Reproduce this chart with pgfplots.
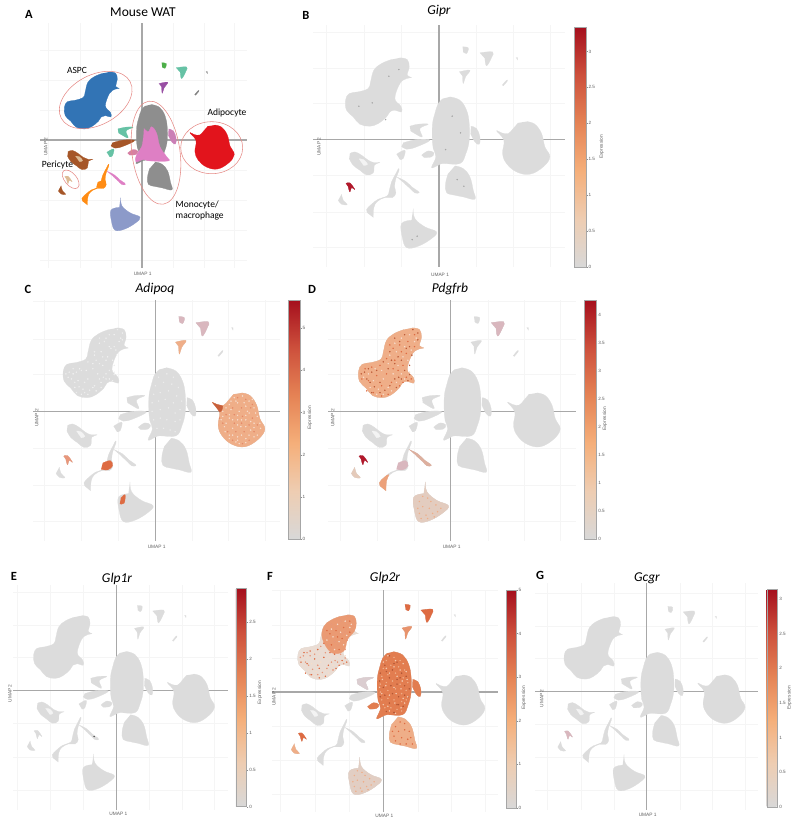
\documentclass[border=0pt]{standalone}
\usepackage{fontspec}
\setmainfont{Carlito}
\newfontfamily\labfont{Liberation Sans}
\usepackage{pgfplots}
\usepackage{pgfplotstable}
\pgfplotsset{compat=1.18}

\definecolor{gr}{HTML}{DCDCDC}
\definecolor{cross}{HTML}{A8A8A8}
\definecolor{ring}{HTML}{E58A86}
\definecolor{lite}{HTML}{F7DCCB}
\definecolor{mid}{HTML}{EFAE88}
\definecolor{dark}{HTML}{DE6B42}
\definecolor{deep}{HTML}{B2182B}
\definecolor{monoc}{HTML}{E27D50}
\definecolor{cblue}{HTML}{3274B5}
\definecolor{cgrey}{HTML}{8E8E8E}
\definecolor{cpink}{HTML}{DE7FC4}
\definecolor{cred}{HTML}{E2141C}
\definecolor{clav}{HTML}{8C9AC9}
\definecolor{cbrown}{HTML}{A65628}
\definecolor{corange}{HTML}{FF8C14}
\definecolor{cteal}{HTML}{66C2A5}
\definecolor{cgreen}{HTML}{4DAF4A}
\definecolor{cpurple}{HTML}{984EA3}
\definecolor{ctan}{HTML}{DDBB95}
\definecolor{mauve}{HTML}{D9B7BE}

% cluster outlines, in one common UMAP frame
\newcommand{\rd}[2]{\pgfplotstableread[row sep=\\]{x y\\#1}#2}
\rd{-117 245\\-95 240\\-89 218\\-95 193\\-82 186\\-97 183\\-117 168\\-132 123\\-114 100\\-112 83\\-132 88\\-147 83\\-157 68\\-182 48\\-207 40\\-237 46\\-257 68\\-277 88\\-280 118\\-269 138\\-242 143\\-212 153\\-205 173\\-195 208\\-172 228\\-142 240\\}\taspc
\rd{-117 245\\-95 240\\-89 218\\-95 193\\-117 168\\-130 130\\-170 125\\-200 170\\-195 208\\-172 228\\-142 240\\}\tup
\rd{33 128\\63 118\\83 88\\91 48\\91 -2\\81 -42\\63 -72\\13 -72\\-2 -77\\-22 -84\\-9 -52\\-17 -27\\-20 8\\-19 48\\-12 78\\-2 108\\13 123\\}\tmono
\rd{-52 -47\\-32 -34\\-15 -40\\-22 -52\\-45 -54\\}\tlobe
\rd{48 -79\\73 -87\\93 -112\\103 -152\\108 -179\\73 -172\\48 -167\\23 -159\\20 -132\\28 -102\\}\tlow
\rd{96 40\\113 33\\123 8\\121 -14\\108 -7\\95 18\\}\tside
\rd{263 54\\288 46\\308 18\\318 -22\\333 -52\\313 -82\\273 -104\\233 -97\\203 -72\\191 -42\\195 -2\\173 26\\188 20\\208 18\\223 33\\238 50\\}\tadip
\rd{173 26\\188 20\\205 15\\200 0\\195 -2\\}\ttail
\rd{-77 -207\\-72 -237\\-42 -262\\-7 -277\\-22 -297\\-62 -320\\-97 -324\\-110 -292\\-112 -252\\-82 -242\\}\tlav
\rd{-105 -255\\-92 -245\\-95 -270\\-108 -272\\}\tlavs
\rd{-267 -42\\-252 -37\\-232 -47\\-212 -62\\-195 -69\\-177 -69\\-193 -76\\-197 -100\\-217 -106\\-237 -92\\-257 -77\\-269 -57\\}\tbra
\rd{-240 -58\\-226 -60\\-214 -74\\-226 -78\\}\thole
\rd{-292 -164\\-287 -182\\-275 -195\\-292 -194\\-302 -182\\}\tbrb
\rd{-279 -132\\-267 -130\\-252 -150\\-262 -144\\-267 -157\\-272 -142\\}\tper
\rd{-212 -222\\-217 -210\\-202 -194\\-182 -179\\-155 -169\\-149 -154\\-142 -127\\-129 -102\\-121 -87\\-120 -94\\-129 -117\\-133 -142\\-129 -160\\-139 -174\\-162 -174\\-185 -186\\-195 -204\\-197 -234\\}\tora
\rd{-160 -152\\-137 -145\\-130 -160\\-145 -172\\-165 -170\\}\tnode
\rd{-212 -222\\-217 -210\\-202 -194\\-188 -186\\-195 -204\\-197 -234\\}\tbase
\rd{-87 40\\-62 46\\-32 46\\-57 33\\-50 8\\-72 18\\-85 26\\}\ttea
\rd{-107 -10\\-67 0\\-27 -2\\-67 -22\\-97 -29\\-112 -20\\}\tbrm
\rd{-127 -44\\-102 -32\\-107 -57\\-117 -60\\}\tteb
\rd{-127 -112\\-100 -125\\-80 -143\\-62 -155\\-60 -160\\-72 -160\\-85 -148\\-104 -131\\}\tpk
\rd{71 278\\88 275\\83 258\\73 263\\}\tgrn
\rd{123 260\\161 263\\158 246\\143 221\\138 243\\}\ttop
\rd{61 203\\93 208\\80 188\\73 168\\71 190\\}\tpur
\rd{231 246\\236 246\\236 238\\}\ttia
\rd{190 163\\203 178\\205 175\\193 161\\}\ttib
\rd{7 42\\23 30\\35 48\\53 24\\65 -24\\89 -60\\95 -75\\29 -75\\5 -70\\-22 -78\\-20 -54\\-1 -24\\5 12\\}\tpink

% hand-placed expression specks
\rd{-170 200\\-150 215\\-125 225\\-110 205\\-140 190\\-165 175\\-120 180\\-185 165\\-145 160\\-130 150\\-190 140\\-160 135\\-230 125\\-250 110\\-210 120\\-265 100\\-235 90\\-205 95\\-175 110\\-150 110\\-125 115\\-245 70\\-220 65\\-190 70\\-165 85\\-140 95\\-205 50\\-225 50\\-180 60\\-105 215\\}\saspca
\rd{-155 195\\-130 205\\-110 225\\-175 185\\-150 175\\-110 190\\-135 170\\-170 150\\-195 155\\-145 135\\-215 135\\-240 130\\-260 125\\-270 95\\-250 90\\-225 105\\-195 110\\-160 120\\-135 100\\-120 95\\-255 60\\-235 55\\-210 75\\-180 85\\-155 75\\-190 50\\-210 45\\-175 125\\-145 85\\-185 195\\}\saspcb
\rd{-262 115\\-255 95\\-272 110\\-240 115\\-225 120\\-245 85\\-232 72\\-215 85\\-200 62\\-185 75\\-170 95\\-158 100\\-190 125\\-170 140\\-150 150\\-125 135\\-140 120\\-118 165\\-135 185\\-155 205\\-170 215\\-140 225\\-115 240\\-100 230\\-185 175\\-160 160\\-205 145\\-250 125\\-215 55\\-240 55\\-130 90\\-125 108\\-165 70\\-150 95\\-180 150\\-125 190\\-100 210\\}\saspcc
\rd{10 100\\35 110\\55 100\\0 75\\25 85\\50 80\\70 70\\-5 50\\15 55\\40 60\\65 45\\80 30\\-10 25\\10 30\\30 35\\55 25\\75 5\\-10 0\\15 5\\40 10\\60 -5\\-5 -25\\15 -20\\35 -25\\60 -30\\75 -25\\5 -50\\25 -50\\45 -55\\60 -60\\}\smonoa
\rd{20 115\\45 95\\5 85\\30 70\\60 60\\75 50\\-10 60\\20 45\\45 40\\70 20\\0 15\\25 20\\45 25\\85 10\\5 -10\\30 -5\\50 -15\\70 -10\\-10 -15\\20 -35\\45 -40\\65 -45\\10 -62\\35 -65\\50 -40\\82 -15\\-12 35\\55 45\\35 90\\10 65\\}\smonob
\rd{0 95\\15 115\\40 100\\65 90\\75 65\\10 75\\35 80\\55 70\\-3 40\\20 60\\45 50\\62 35\\78 40\\-12 15\\8 20\\35 15\\58 10\\80 -15\\-5 -5\\20 -10\\42 -5\\65 -20\\0 -40\\15 -45\\38 -35\\58 -50\\70 -35\\20 -60\\40 -68\\}\smonoc
\rd{40 -110\\55 -95\\70 -100\\35 -140\\50 -125\\70 -120\\85 -125\\40 -155\\60 -145\\80 -150\\95 -165\\55 -165\\30 -125\\75 -165\\90 -145\\}\slow
\rd{240 40\\265 45\\285 30\\225 20\\250 25\\275 15\\300 10\\205 0\\230 5\\255 0\\285 -5\\310 -15\\200 -25\\225 -20\\250 -25\\275 -25\\300 -35\\210 -45\\235 -50\\260 -45\\290 -55\\320 -50\\225 -70\\250 -75\\275 -80\\300 -75\\255 -95\\245 -90\\}\sadipa
\rd{250 40\\275 35\\295 20\\235 10\\262 10\\290 10\\215 -10\\240 -10\\265 -15\\295 -20\\205 -35\\240 -35\\262 -35\\285 -40\\310 -40\\220 -60\\245 -60\\270 -60\\300 -60\\235 -85\\265 -95\\285 -85\\195 -20\\}\sadipb
\rd{245 30\\270 25\\295 35\\230 30\\215 10\\280 0\\305 -5\\225 -10\\250 -12\\275 -12\\205 -15\\235 -25\\262 -25\\290 -30\\318 -35\\215 -35\\250 -40\\275 -45\\300 -48\\212 -60\\235 -70\\262 -70\\285 -70\\310 -70\\250 -85\\275 -92\\225 -80\\}\sadipc
\rd{-85 -250\\-95 -265\\-70 -255\\-60 -265\\-85 -280\\-65 -285\\-45 -275\\-30 -285\\-95 -300\\-75 -305\\-55 -300\\-40 -295\\-90 -315\\-70 -315\\-100 -285\\-50 -310\\}\slav
\rd{-75 -150\\}\sdot
\rd{-150 190\\-120 210\\-200 110\\-160 60\\-240 100\\40 70\\65 20\\20 -30\\75 -140\\55 -120\\-65 -290\\-80 -300\\}\sdotb

\newcommand{\clu}[2]{\addplot[fill=#2,draw=#2,line width=.25pt,line join=round,smooth,tension=.65,no marks,forget plot] table {#1};}
\newcommand{\spk}[2]{\addplot[only marks,mark=*,mark size=.5pt,color=#2,forget plot] table {#1};}
\newcommand{\allc}[1]{\clu{\taspc}{#1}\clu{\tmono}{#1}\clu{\tlobe}{#1}\clu{\tlow}{#1}\clu{\tside}{#1}\clu{\tadip}{#1}\clu{\tlav}{#1}\clu{\tbra}{#1}\clu{\tbrb}{#1}\clu{\tper}{#1}\clu{\tora}{#1}\clu{\ttea}{#1}\clu{\tbrm}{#1}\clu{\tteb}{#1}\clu{\tpk}{#1}\clu{\tgrn}{#1}\clu{\ttop}{#1}\clu{\tpur}{#1}\clu{\ttia}{#1}\clu{\ttib}{#1}\clu{\thole}{gr!35}}

\pgfplotsset{
  colormap={expr}{rgb255=(216,216,216) rgb255=(238,205,178) rgb255=(245,175,122) rgb255=(229,131,85) rgb255=(205,80,60) rgb255=(165,15,29)},
  umap/.style={
    scale only axis, anchor=south west, axis lines=center, axis line style={-,draw=cross,line width=1.3pt},
    xtick={-337,-224,-112,113,223,333}, ytick={-324,-217,-107,108,213,323},
    xticklabels={}, yticklabels={}, major tick length=0pt, grid=major,
    grid style={draw=black!4,line width=.4pt}},
  cbar/.style n args={6}{
    colorbar, point meta min=0, point meta max=#1,
    colorbar style={scale only axis, width=#5, height=#6,
      at={(parent axis.south west)}, anchor=south west, xshift=#3-8.54pt, yshift=#4,
      ytick={#2}, ytick pos=right, yticklabel pos=right, tick align=outside, major tick length=1.6pt,
      tick style={draw=black!45,line width=.3pt}, axis line style={draw=black!35,line width=.4pt},
      /pgf/number format/assume math mode=true,
      yticklabel style={font=\labfont\fontsize{4.6}{5}\selectfont,text=black!65,inner sep=.8pt}}},
}
\newcommand{\txt}[5]{\node[inner sep=0pt,rotate=#3,font=#4] at ({#1*1pt},{(825-#2)*1pt}) {#5};}
\newcommand{\uml}{\labfont\fontsize{4.8}{5}\selectfont\color{black!62}}
\newcommand{\ttl}{\fontsize{13.5}{14}\selectfont\itshape}
\newcommand{\plab}{\fontsize{12.5}{13}\selectfont\bfseries}
\newcommand{\anno}{\fontsize{9.5}{11}\selectfont}

\begin{document}
\begin{tikzpicture}
\useasboundingbox (0,0) rectangle (800pt,825pt);

% A
\begin{axis}[umap, at={(40pt,557pt)}, width=207pt, height=245pt, xmin=-368, xmax=379, ymin=-460, ymax=421,
  ytick={-432,-324,-216,-108,108,216,324}]
\clu{\taspc}{cblue}
\clu{\tmono}{cgrey}\clu{\tlow}{cgrey}\clu{\tpink}{cpink}
\clu{\tlobe}{cpink!75!brown}\clu{\tside}{cpink!80!gray}
\clu{\tadip}{cred}\clu{\tlav}{clav}
\clu{\tbra}{cbrown}\clu{\thole}{ctan}\clu{\tbrb}{cbrown}\clu{\tper}{ctan}
\clu{\tora}{corange}\clu{\tnode}{corange}\clu{\ttea}{cteal}\clu{\tbrm}{cbrown}\clu{\tteb}{cteal}
\clu{\tpk}{cpink}\clu{\tgrn}{cgreen}\clu{\ttop}{cteal}\clu{\tpur}{cpurple}
\clu{\ttia}{gray}\clu{\ttib}{gray}
\end{axis}

% B Gipr
\begin{axis}[umap, at={(313.2pt,558.1pt)}, width=251.7pt, height=241.7pt, xmin=-377, xmax=378, ymin=-382, ymax=343,
  cbar={3.34}{0,0.5,...,3}{261.1pt}{-0.1pt}{11.7pt}{240pt}]
\allc{gr}
\clu{\tper}{deep}
\spk{\sdotb}{gray!70}
\end{axis}

% C Adipoq
\begin{axis}[umap, at={(33pt,284pt)}, width=247pt, height=241pt, xmin=-372, xmax=379, ymin=-381, ymax=327,
  cbar={5.67}{0,1,...,5}{255.3pt}{2pt}{11.7pt}{239pt}]
\allc{gr}
\spk{\saspca}{gr!40}\spk{\saspcc}{gr!50}\spk{\smonoa}{gr!55}
\clu{\tadip}{mid}\spk{\sadipa}{lite}\spk{\sadipb}{dark!80}\spk{\sadipc}{lite}
\clu{\ttail}{dark!90!black}
\clu{\tper}{dark!70}\clu{\tnode}{dark}\clu{\tlavs}{dark}
\clu{\tgrn}{mauve}\clu{\ttop}{mauve}\clu{\tpur}{mid}
\end{axis}

% D Pdgfrb
\begin{axis}[umap, at={(328pt,284pt)}, width=248pt, height=241pt, xmin=-373, xmax=381, ymin=-381, ymax=327,
  cbar={4.27}{0,0.5,...,4}{256pt}{2pt}{11.7pt}{239pt}]
\allc{gr}
\clu{\taspc}{mid}\spk{\saspca}{lite}\spk{\saspcb}{dark}\spk{\saspcc}{dark!85!black}
\clu{\tlav}{gr!65!mid}\spk{\slav}{mid}
\clu{\tbase}{mid!80!dark}\clu{\tnode}{mauve}
\clu{\tper}{deep}\clu{\tbrb}{gr!60!mid}\clu{\ttop}{mauve}\clu{\tpk}{gr!60!dark}
\end{axis}

% E Glp1r
\begin{axis}[umap, at={(13pt,15pt)}, width=215pt, height=225pt, xmin=-350, xmax=378.6, ymin=-390, ymax=345,
  cbar={2.96}{0,0.5,...,2.5}{223pt}{3.3pt}{10.7pt}{218.4pt}]
\allc{gr}
\spk{\sdot}{black!70}
\end{axis}

% F Glp2r
\begin{axis}[umap, at={(272pt,13pt)}, width=226pt, height=222pt, xmin=-365, xmax=376, ymin=-381, ymax=324,
  cbar={5}{0,1,...,5}{234pt}{4pt}{10pt}{218pt}]
\allc{gr}
\clu{\taspc}{gr!50!lite}\clu{\tup}{mid!70!dark}\spk{\saspcb}{dark}\spk{\saspca}{lite}\spk{\saspcc}{dark!70}
\clu{\tmono}{monoc}\spk{\smonoa}{mid}\spk{\smonob}{dark!80!black}\spk{\smonoc}{lite!60!mid}
\clu{\tlobe}{monoc}\clu{\tside}{monoc}
\clu{\tlow}{mid}\spk{\slow}{dark}
\clu{\tlav}{gr!70!mid}\spk{\slav}{mid}
\clu{\tgrn}{dark}\clu{\ttop}{dark}\clu{\tpur}{mid!60!dark}\clu{\ttea}{gr!60!mauve}
\clu{\tper}{dark}\clu{\tbrb}{mid}
\end{axis}

% G Gcgr
\begin{axis}[umap, at={(535pt,15pt)}, width=223pt, height=227pt, xmin=-379, xmax=377, ymin=-389, ymax=355,
  cbar={3.14}{0,0.5,...,3}{231.7pt}{3pt}{10pt}{218pt}]
\allc{gr}
\clu{\tper}{mauve}
\end{axis}

% rings of panel A
\begin{scope}[draw=ring,line width=.55pt]
\draw[rotate around={28:(95.7pt,725pt)}] (95.7pt,725pt) ellipse (39pt and 25pt);
\draw[rotate around={98:(156pt,672.3pt)}] (156pt,672.3pt) ellipse (52pt and 24pt);
\draw (211.7pt,677.3pt) ellipse (31pt and 26pt);
\draw[rotate around={-50:(70.7pt,645.7pt)}] (70.7pt,645.7pt) ellipse (11pt and 6pt);
\end{scope}

\txt{29}{14}{0}{\plab}{A}\txt{306}{15}{0}{\plab}{B}\txt{28}{289}{0}{\plab}{C}\txt{312}{289}{0}{\plab}{D}
\txt{14}{576}{0}{\plab}{E}\txt{270}{576}{0}{\plab}{F}\txt{540}{575}{0}{\plab}{G}
\txt{143}{12}{0}{\fontsize{13.5}{14}\selectfont}{Mouse WAT}
\txt{439}{11}{0}{\ttl}{Gipr}\txt{155}{289}{0}{\ttl}{Adipoq}\txt{450}{289}{0}{\ttl}{Pdgfrb}
\txt{117}{579}{0}{\ttl}{Glp1r}\txt{385}{578}{0}{\ttl}{Glp2r}\txt{647}{578}{0}{\ttl}{Gcgr}
\txt{77}{70.7}{0}{\anno}{ASPC}\txt{227}{113}{0}{\anno}{Adipocyte}\txt{57.5}{165}{0}{\anno}{Pericyte}
\node[inner sep=0pt,anchor=north west,align=left,font=\anno] at (175.5pt,624pt) {Monocyte/\\macrophage};

\txt{142.7}{274}{0}{\uml}{UMAP 1}\txt{45.7}{146.7}{90}{\uml}{UMAP 2}
\txt{440}{275}{0}{\uml}{UMAP 1}\txt{319}{146.7}{90}{\uml}{UMAP 2}\txt{601.7}{147}{90}{\uml}{Expression}
\txt{156.7}{546.7}{0}{\uml}{UMAP 1}\txt{36.7}{418}{90}{\uml}{UMAP 2}\txt{310}{418}{90}{\uml}{Expression}
\txt{451.7}{546.7}{0}{\uml}{UMAP 1}\txt{332.7}{418}{90}{\uml}{UMAP 2}\txt{605}{419}{90}{\uml}{Expression}
\txt{118.3}{814}{0}{\uml}{UMAP 1}\txt{10}{693.3}{90}{\uml}{UMAP 2}\txt{260}{692.7}{90}{\uml}{Expression}
\txt{384.3}{815.7}{0}{\uml}{UMAP 1}\txt{274}{696.7}{90}{\uml}{UMAP 2}\txt{524}{698}{90}{\uml}{Expression}
\txt{647.7}{815}{0}{\uml}{UMAP 1}\txt{541.7}{698.3}{90}{\uml}{UMAP 2}\txt{789.3}{698}{90}{\uml}{Expression}
\end{tikzpicture}
\end{document}
